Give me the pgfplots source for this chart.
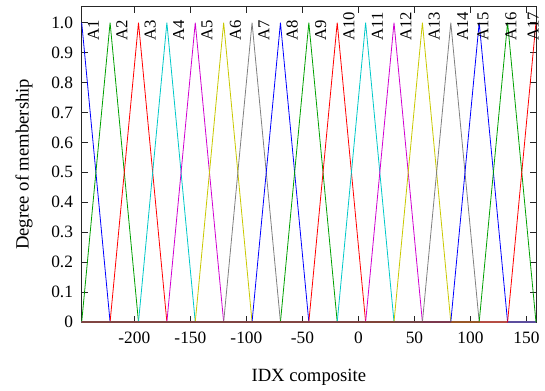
\documentclass[border=0pt]{standalone}
\usepackage{fontspec}
\setmainfont{Liberation Serif}
\usepackage{pgfplots}
\pgfplotsset{compat=1.18}
\definecolor{cB}{HTML}{0000FF}
\definecolor{cG}{HTML}{00A000}
\definecolor{cR}{HTML}{FF0000}
\definecolor{cC}{HTML}{00C8C8}
\definecolor{cM}{HTML}{D000D0}
\definecolor{cY}{HTML}{C8C800}
\definecolor{cK}{HTML}{808080}
\begin{document}
\begin{tikzpicture}[font=\fontsize{13pt}{15pt}\selectfont]
\useasboundingbox (0,0) rectangle (408.75pt,292.5pt);
\begin{axis}[
  at={(61.275pt,51pt)}, anchor=south west,
  scale only axis, width=340.7pt, height=236.5pt,
  xmin=-247, xmax=158.5, ymin=0, ymax=1.0535,
  clip=false,
  axis line style={black!85, line width=0.6pt},
  major tick style={black!85, line width=0.6pt},
  major tick length=4.5pt,
  tick align=inside,
  xtick={-200,-150,-100,-50,0,50,100,150},
  ytick={0,0.1,0.2,0.3,0.4,0.5,0.6,0.7,0.8,0.9,1.0},
  yticklabels={0,0.1,0.2,0.3,0.4,0.5,0.6,0.7,0.8,0.9,1.0},
  minor tick num=0,
  /pgf/number format/assume math mode=true,
  ticklabel style={font=\fontsize{13pt}{15pt}\selectfont},
  xticklabel style={yshift=-4pt},
  yticklabel style={xshift=-3pt},
  xlabel={IDX composite},
  ylabel={Degree of membership},
  label style={font=\fontsize{14pt}{16pt}\selectfont},
  xlabel style={at={(axis description cs:0.5,-0.1744)}, anchor=center},
  ylabel style={at={(axis description cs:-0.127,0.5)}, anchor=center, rotate=0},
  every axis plot/.append style={line width=0.6pt},
]
\addplot[cB] coordinates {(-247.00,1) (-221.66,0) (158.5,0)};
\addplot[cG] coordinates {(-247.00,0) (-221.66,1) (-196.31,0) (158.5,0)};
\addplot[cR] coordinates {(-247,0) (-221.66,0) (-196.31,1) (-170.97,0) (158.5,0)};
\addplot[cC] coordinates {(-247,0) (-196.31,0) (-170.97,1) (-145.63,0) (158.5,0)};
\addplot[cM] coordinates {(-247,0) (-170.97,0) (-145.63,1) (-120.28,0) (158.5,0)};
\addplot[cY] coordinates {(-247,0) (-145.63,0) (-120.28,1) (-94.94,0) (158.5,0)};
\addplot[cK] coordinates {(-247,0) (-120.28,0) (-94.94,1) (-69.59,0) (158.5,0)};
\addplot[cB] coordinates {(-247,0) (-94.94,0) (-69.59,1) (-44.25,0) (158.5,0)};
\addplot[cG] coordinates {(-247,0) (-69.59,0) (-44.25,1) (-18.91,0) (158.5,0)};
\addplot[cR] coordinates {(-247,0) (-44.25,0) (-18.91,1) (6.44,0) (158.5,0)};
\addplot[cC] coordinates {(-247,0) (-18.91,0) (6.44,1) (31.78,0) (158.5,0)};
\addplot[cM] coordinates {(-247,0) (6.44,0) (31.78,1) (57.13,0) (158.5,0)};
\addplot[cY] coordinates {(-247,0) (31.78,0) (57.13,1) (82.47,0) (158.5,0)};
\addplot[cK] coordinates {(-247,0) (57.13,0) (82.47,1) (107.81,0) (158.5,0)};
\addplot[cB] coordinates {(-247,0) (82.47,0) (107.81,1) (133.16,0) (158.5,0)};
\addplot[cG] coordinates {(-247,0) (107.81,0) (133.16,1) (158.5,0)};
\addplot[cR] coordinates {(-247,0) (133.16,0) (158.5,1)};
\begin{scope}[every node/.style={rotate=90, anchor=west, inner sep=0pt, font=\fontsize{12.5pt}{14pt}\selectfont}]
\node at (axis cs:-236.5,0.94) {A1};
\node at (axis cs:-211.16,0.94) {A2};
\node at (axis cs:-185.81,0.94) {A3};
\node at (axis cs:-160.47,0.94) {A4};
\node at (axis cs:-135.13,0.94) {A5};
\node at (axis cs:-109.78,0.94) {A6};
\node at (axis cs:-84.44,0.94) {A7};
\node at (axis cs:-59.09,0.94) {A8};
\node at (axis cs:-33.75,0.94) {A9};
\node at (axis cs:-8.41,0.94) {A10};
\node at (axis cs:16.94,0.94) {A11};
\node at (axis cs:42.28,0.94) {A12};
\node at (axis cs:67.63,0.94) {A13};
\node at (axis cs:92.97,0.94) {A14};
\node at (axis cs:111.2,0.94) {A15};
\node at (axis cs:136.2,0.94) {A16};
\node at (axis cs:155.9,0.94) {A17};
\end{scope}
\end{axis}
\end{tikzpicture}
\end{document}
